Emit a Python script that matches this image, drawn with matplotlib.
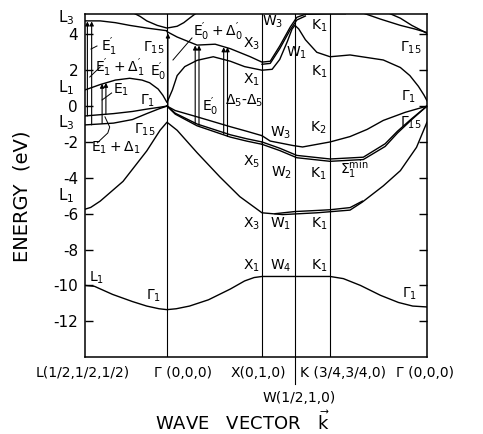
import matplotlib
matplotlib.use("Agg")
import matplotlib.pyplot as plt
from matplotlib.transforms import blended_transform_factory

plt.rcParams['font.family'] = ['DejaVu Sans']
plt.rcParams['mathtext.default'] = 'regular'

# symmetry points along the path L - G - X - W - K - G
k_sym = [0.0, 0.863, 1.863, 2.21, 2.58, 3.6]
sym_names = ["L(1/2,1/2,1/2)", "Γ (0,0,0)", "X(0,1,0)", "W(1/2,1,0)", "K (3/4,3/4,0)", "Γ (0,0,0)"]

# lowest valence band (L1 - G1 - X1 - W4 - K1 - G1)
k_s = [0, 0.1, 0.29, 0.5, 0.65, 0.78, 0.863, 0.96, 1.1, 1.3, 1.53, 1.68, 1.78, 1.863, 2.21, 2.58, 2.72, 2.9, 3.11, 3.3, 3.45, 3.6]
e_s = [-10.0, -10.05, -10.5, -10.9, -11.15, -11.3, -11.35, -11.3, -11.15, -10.8, -10.2, -9.75, -9.56, -9.5, -9.5, -9.5, -9.62, -10.0, -10.55, -10.95, -11.15, -11.2]

# second valence band (L1 - G15 - X3 - W1 - K1 - G15)
k_p1 = [0, 0.06, 0.16, 0.4, 0.65, 0.79, 0.863, 0.97, 1.18, 1.42, 1.63, 1.863, 2.08, 2.44, 2.79, 2.92, 3.14, 3.32, 3.49, 3.6]
e_p1 = [-5.75, -5.65, -5.3, -4.2, -2.5, -1.35, -0.9, -1.35, -2.6, -3.95, -5.05, -5.95, -6.05, -5.95, -5.8, -5.35, -4.45, -3.6, -2.3, -0.9]
k_p1b = [2.0, 2.21, 2.44, 2.58, 2.79, 2.92]
e_p1b = [-6.0, -5.88, -5.82, -5.78, -5.66, -5.3]

# top valence bands
k_vL = [0, 0.3, 0.5, 0.65, 0.78, 0.863]
e_vL_up = [-0.55, -0.42, -0.3, -0.17, -0.07, 0.0]
e_vL_lo = [-1.05, -0.95, -0.75, -0.42, -0.15, 0.0]

k_vX = [0.863, 0.95, 1.18, 1.53, 1.7, 1.863]
e_vX_up = [0.0, -0.25, -0.6, -1.15, -1.4, -1.65]
e_vX_lo = [0.0, -0.4, -1.0, -1.6, -1.82, -2.0]
e_vX_lo2 = [0.0, -0.45, -1.1, -1.73, -1.95, -2.13]

k_vW_up = [1.863, 1.95, 2.19, 2.29, 2.58, 2.79, 2.97, 3.14, 3.37, 3.6]
e_vW_up = [-1.65, -1.95, -2.2, -2.28, -2.0, -1.7, -1.3, -0.8, -0.35, 0.0]
k_vW_lo = [1.863, 2.05, 2.23, 2.58, 2.93, 3.16, 3.29, 3.44, 3.6]
e_vW_lo = [-2.0, -2.35, -2.75, -2.95, -2.85, -2.1, -1.4, -0.7, 0.0]
e_vW_lo2 = [-2.13, -2.48, -2.88, -3.08, -2.98, -2.25, -1.5, -0.75, 0.0]

# lowest conduction band (L1 - G1 - X1 - W1 - K1 - G1)
k_c1 = [0, 0.16, 0.32, 0.47, 0.6, 0.68, 0.77, 0.82, 0.863, 0.92, 0.97, 1.05, 1.18, 1.35, 1.53, 1.68,
        1.863, 1.97, 2.05, 2.13, 2.18, 2.21, 2.25, 2.32, 2.44, 2.58, 2.79, 3.14, 3.32, 3.42, 3.51, 3.57, 3.6]
e_c1 = [0.9, 1.2, 1.45, 1.55, 1.45, 1.3, 0.95, 0.6, 0.2, 0.9, 1.7, 2.2, 2.55, 2.75, 2.5, 2.2,
        2.0, 2.05, 2.6, 3.6, 4.3, 4.5, 4.3, 3.7, 3.0, 2.75, 2.85, 2.57, 2.15, 1.7, 1.1, 0.6, 0.3]

# upper conduction bands
k_c2 = [0.863, 0.97, 1.18, 1.37, 1.53, 1.74, 1.863, 1.95, 2.05, 2.16, 2.23, 2.32, 2.58, 2.74]
e_c2 = [4.15, 3.85, 3.4, 3.45, 3.2, 2.75, 2.45, 2.5, 3.35, 4.4, 4.95, 5.12, 5.15, 5.15]
k_c2b = [1.863, 1.95, 2.05, 2.16, 2.23, 2.32]
e_c2b = [2.33, 2.38, 3.2, 4.25, 4.8, 5.02]

k_c3 = [0, 0.16, 0.32, 0.47, 0.65, 0.863]
e_c3 = [4.75, 4.75, 4.65, 4.5, 4.35, 4.2]

k_c4 = [0.47, 0.58, 0.65, 0.76, 0.863, 0.97, 1.04, 1.1, 1.2]
e_c4 = [5.3, 5.0, 4.75, 4.5, 4.35, 4.45, 4.65, 4.9, 5.3]

k_c5a = [2.92, 3.11, 3.32, 3.47, 3.6]
e_c5a = [5.2, 4.85, 4.5, 4.3, 4.1]
k_c5b = [3.19, 3.32, 3.44, 3.55, 3.6]
e_c5b = [5.2, 4.9, 4.5, 4.2, 4.05]

# optical transitions: (k, lower energy, upper energy)
arrow_k = [0.025, 0.07, 0.18, 0.22, 0.873, 1.16, 1.2, 1.46, 1.5]
arrow_lo = [-0.55, -1.05, -0.97, -0.45, 0.0, -1.0, -1.08, -1.55, -1.7]
arrow_hi = [4.72, 4.72, 1.25, 1.3, 4.05, 3.38, 3.38, 3.28, 3.28]

fig = plt.figure(figsize=(4.83, 4.34), dpi=100)
ax = fig.add_axes([0.176, 0.177, 0.708, 0.791])

lw = 1.0
for kk, ee in [(k_s, e_s), (k_p1, e_p1), (k_p1b, e_p1b),
               (k_vL, e_vL_up), (k_vL, e_vL_lo),
               (k_vX, e_vX_up), (k_vX, e_vX_lo), (k_vX, e_vX_lo2),
               (k_vW_up, e_vW_up), (k_vW_lo, e_vW_lo), (k_vW_lo, e_vW_lo2),
               (k_c1, e_c1), (k_c2, e_c2), (k_c2b, e_c2b), (k_c3, e_c3),
               (k_c4, e_c4), (k_c5a, e_c5a), (k_c5b, e_c5b)]:
    ax.plot(kk, ee, color='k', lw=lw, solid_joinstyle='round')

ax.set_xlim(0, 3.6)
ax.set_ylim(-14, 5.14)

# vertical lines at the symmetry points
for k in k_sym[1:5]:
    ax.axvline(k, color='k', lw=0.8)
ax.plot([k_sym[3], k_sym[3]], [-14, -15.5], color='k', lw=0.8, clip_on=False)

for k, lo, hi in zip(arrow_k, arrow_lo, arrow_hi):
    ax.annotate("", xy=(k, hi), xytext=(k, lo),
                arrowprops=dict(arrowstyle='-|>', color='k', lw=0.8,
                                mutation_scale=6, shrinkA=0, shrinkB=0))

# leader lines for the transition labels
ax.plot([0.063, 0.126], [3.18, 3.35], color='k', lw=0.7)
ax.plot([0.05, 0.16], [1.62, 2.18], color='k', lw=0.7)
ax.plot([0.18, 0.28], [0.34, 0.73], color='k', lw=0.7)
ax.plot([0.21, 0.26, 0.24, 0.13], [-0.6, -1.17, -1.5, -2.05], color='k', lw=0.7)
ax.plot([1.126, 0.926], [3.8, 2.57], color='k', lw=0.7)

fs = 10
labels = [
    (r"$E_1'$", 0.25, 3.3), (r"$E_1'+\Delta_1'$", 0.37, 2.12), (r"$E_1$", 0.38, 0.9),
    (r"$E_1+\Delta_1$", 0.32, -2.3), (r"$\Gamma_1$", 0.66, 0.3), (r"$\Gamma_{15}$", 0.63, -1.3),
    (r"$\Gamma_{15}$", 0.72, 3.25), (r"$E_0'$", 0.77, 1.9), (r"$E_0'+\Delta_0'$", 1.4, 4.15),
    (r"$E_0'$", 1.32, -0.05), (r"$\Delta_5$-$\Delta_5$", 1.67, 0.3),
    (r"$X_3$", 1.75, 3.5), (r"$X_1$", 1.75, 1.45), (r"$W_3$", 1.98, 4.7),
    (r"$W_1$", 2.23, 2.95), (r"$K_1$", 2.47, 4.5), (r"$K_1$", 2.47, 1.9),
    (r"$\Gamma_{15}$", 3.43, 3.25), (r"$\Gamma_1$", 3.41, 0.5), (r"$\Gamma_{15}$", 3.43, -0.95),
    (r"$W_3$", 2.06, -1.5), (r"$K_2$", 2.46, -1.2), (r"$X_5$", 1.75, -3.1),
    (r"$W_2$", 2.07, -3.7), (r"$K_1$", 2.46, -3.75),
    (r"$X_3$", 1.75, -6.55), (r"$W_1$", 2.06, -6.55), (r"$K_1$", 2.47, -6.55),
    (r"$X_1$", 1.75, -8.9), (r"$W_4$", 2.06, -8.9), (r"$K_1$", 2.47, -8.9),
    (r"$\Gamma_1$", 3.42, -10.45), (r"$L_1$", 0.12, -9.55), (r"$\Gamma_1$", 0.72, -10.55),
]
for s, k, e in labels:
    ax.text(k, e, s, fontsize=fs, ha='center', va='center')
ax.text(2.68, -3.5, r"$\Sigma_1^{min}$", fontsize=fs, ha='left', va='center')

# y axis
yt = [4, 2, 0, -2, -4, -6, -8, -10, -12]
ax.set_yticks(yt)
ax.set_yticklabels([str(v) for v in yt], fontsize=11)
ax.set_xticks([])
ax.tick_params(axis='y', direction='in', length=6, width=1, right=True, pad=5)
for sp in ax.spines.values():
    sp.set_linewidth(1.1)

trl = blended_transform_factory(ax.transAxes, ax.transData)
for s, e in [(r"$L_3$", 4.95), (r"$L_1$", 1.0), (r"$L_3$", -0.95), (r"$L_1$", -5.0)]:
    ax.text(-0.03, e, s, fontsize=11, ha='right', va='center', transform=trl)

trb = blended_transform_factory(ax.transData, ax.transAxes)
name_k = [-0.02, 1.03, 1.82, 2.25, 2.72, 3.58]
name_y = [-0.047, -0.047, -0.047, -0.12, -0.047, -0.047]
for s, k, y in zip(sym_names, name_k, name_y):
    ax.text(k, y, s, fontsize=10, ha='center', va='center', transform=trb)

ax.text(0.46, -0.19, r"WAVE   VECTOR   $\vec{k}$", fontsize=13, ha='center', va='center',
        transform=ax.transAxes)
ax.text(-0.184, 0.47, "ENERGY  (eV)", fontsize=14, rotation=90, ha='center', va='center',
        transform=ax.transAxes)

fig.savefig("out.png", dpi=100)
